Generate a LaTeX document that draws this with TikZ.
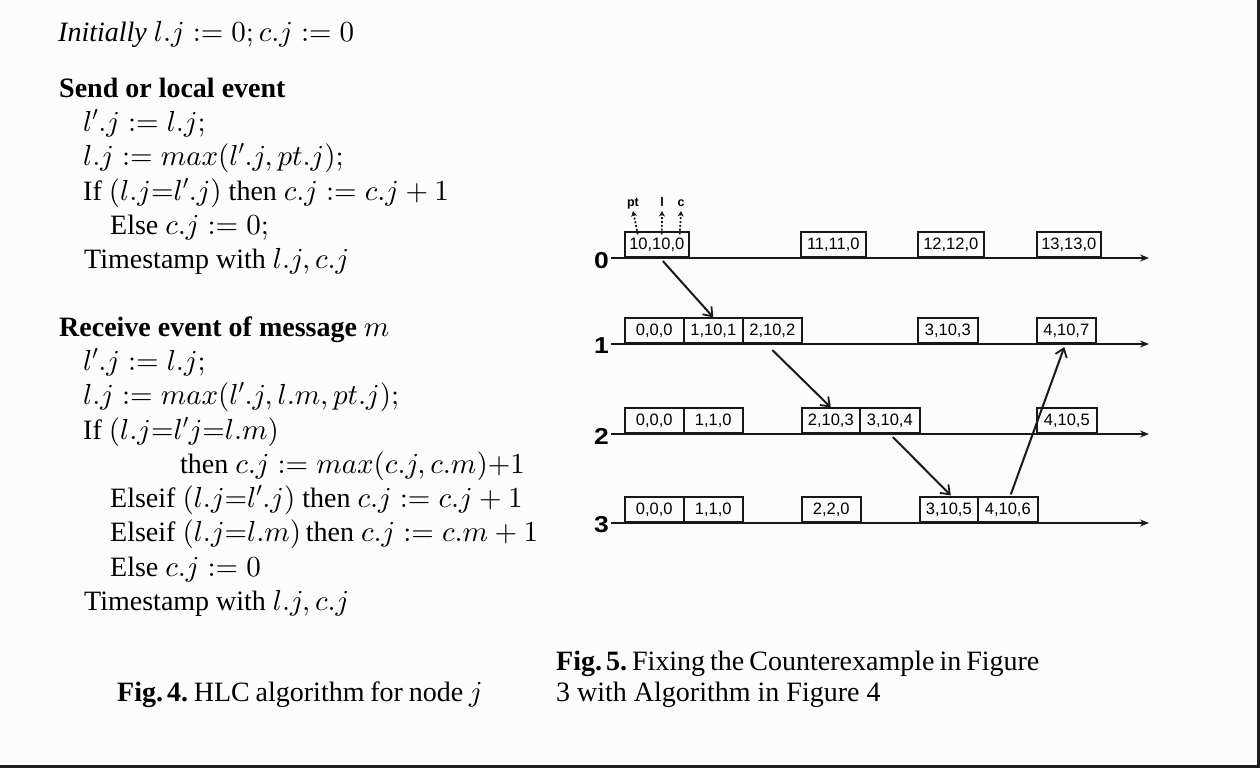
\RequirePackage{fix-cm}
\documentclass[tikz,border=0pt]{standalone}
\usepackage[no-math]{fontspec}
\setmainfont{Liberation Serif}
\newfontfamily\diagfont{Liberation Sans}
\DeclareFontShape{OML}{cmm}{m}{it}{<->cmmi10}{}
\DeclareFontShape{OT1}{cmr}{m}{n}{<->cmr10}{}
\DeclareFontShape{OMS}{cmsy}{m}{n}{<->cmsy10}{}
\DeclareMathSizes{28}{29}{20}{15}
\frenchspacing
\usetikzlibrary{arrows.meta}
\definecolor{bgc}{RGB}{252,252,252}
\definecolor{framec}{RGB}{30,30,30}
\definecolor{inkc}{RGB}{25,25,25}
\tikzset{
  txt/.style={anchor=base west, inner sep=0pt, font=\fontsize{28}{34}\selectfont},
  ev/.style={draw=inkc, line width=1.6pt, minimum height=25pt, inner sep=0pt,
    anchor=south west, font=\diagfont\fontsize{16.5}{18}\selectfont},
  proc/.style={anchor=east, inner sep=0pt, xscale=1.15, font=\diagfont\bfseries\fontsize{23}{24}\selectfont},
  tl/.style={draw=inkc, line width=1.9pt, -{Stealth[length=9pt,width=7pt]}},
  msg/.style={draw=inkc, line width=2pt, -{Straight Barb[length=8pt,width=12pt,line width=1.8pt]}},
  tag/.style={anchor=base, inner sep=0pt, font=\diagfont\bfseries\fontsize{12.5}{14}\selectfont},
  tagarrow/.style={draw=inkc, line width=1.7pt, dash pattern=on 2pt off 1.8pt, -{Stealth[length=5.5pt,width=6pt]}}
}
\begin{document}
\begin{tikzpicture}[x=1pt,y=-1pt]
\useasboundingbox (0,0) rectangle (1260,768);
\fill[bgc] (0,0) rectangle (1260,768);
\fill[framec] (1257,0) rectangle (1260,768);
\fill[framec] (0,765) rectangle (1260,768);

% ---------- Algorithm text ----------
\node[txt] (a1) at (58,42) {\textit{Initially} $l.j := 0; c.j := 0$};
\node[txt] (a2) at (59,97) {\textbf{Send or local event}};
\node[txt] (a3) at (83,131) {$l'.j := l.j;$};
\node[txt] (a4) at (83,165) {$l.j := max(l'.j, pt.j);$};
\node[txt] (a5) at (83,200) {If $(l.j{=}l'.j)$ then $c.j := c.j + 1$};
\node[txt] (a6) at (110,234) {Else $c.j := 0;$};
\node[txt] (a7) at (84,268) {Timestamp with $l.j, c.j$};

\node[txt] (b1) at (59,336) {\textbf{Receive event of message} $m$};
\node[txt] (b2) at (83,370) {$l'.j := l.j;$};
\node[txt] (b3) at (83,404) {$l.j := max(l'.j, l.m, pt.j);$};
\node[txt] (b4) at (83,439) {If $(l.j{=}l'j{=}l.m)$};
\node[txt] (b5) at (180,473) {then $c.j := max(c.j, c.m){+}1$};
\node[txt] (b6) at (110,507) {Elseif $(l.j{=}l'.j)$ then $c.j := c.j + 1$};
\node[txt] (b7) at (110,541) {Elseif $(l.j{=}l.m)$\,then $c.j := c.m + 1$};
\node[txt] (b8) at (110,576) {Else $c.j := 0$};
\node[txt] (b9) at (84,610) {Timestamp with $l.j, c.j$};

\node[txt] (cap4) at (117,701) {\spaceskip=5.8pt\textbf{Fig.\hspace{4pt}4.} HLC algorithm for node $j$};
\node[txt] (cap5a) at (556,670) {\spaceskip=5pt\textbf{Fig.\hspace{4pt}5.} Fixing the Counterexample in Figure};
\node[txt] (cap5b) at (556,701) {3 with Algorithm in Figure 4};

% ---------- Timelines ----------
\node[proc] (P0) at (609,260.5) {0};
\node[proc] (P1) at (609,346) {1};
\node[proc] (P2) at (609,436) {2};
\node[proc] (P3) at (609,525) {3};
\coordinate (S0) at (611,258);
\coordinate (S1) at (611,344);
\coordinate (S2) at (611,434);
\coordinate (S3) at (611,523);
\coordinate (E0) at (1149,258);
\coordinate (E1) at (1149,344);
\coordinate (E2) at (1149,434);
\coordinate (E3) at (1149,523);
\draw[tl] (S0) -- (E0);
\draw[tl] (S1) -- (E1);
\draw[tl] (S2) -- (E2);
\draw[tl] (S3) -- (E3);

% ---------- Events ----------
% process 0
\node[ev, minimum width=64pt] (e00) at (624,258) {10,10,0};
\node[ev, minimum width=65pt] (e01) at (800,258) {11,11,0};
\node[ev, minimum width=66pt] (e02) at (917,258) {12,12,0};
\node[ev, minimum width=64pt] (e03) at (1036,258) {13,13,0};
% process 1
\node[ev, minimum width=59pt] (e10) at (624,344) {0,0,0};
\node[ev, minimum width=59pt] (e11) at (683,344) {1,10,1};
\node[ev, minimum width=59pt] (e12) at (742,344) {2,10,2};
\node[ev, minimum width=60pt] (e13) at (917,344) {3,10,3};
\node[ev, minimum width=59pt] (e14) at (1036,344) {4,10,7};
% process 2
\node[ev, minimum width=59pt] (e20) at (624,434) {0,0,0};
\node[ev, minimum width=59pt] (e21) at (683,434) {1,1,0};
\node[ev, minimum width=58pt] (e22) at (801,434) {2,10,3};
\node[ev, minimum width=60pt] (e23) at (859,434) {3,10,4};
\node[ev, minimum width=60pt] (e24) at (1036,434) {4,10,5};
% process 3
\node[ev, minimum width=59pt] (e30) at (624,523) {0,0,0};
\node[ev, minimum width=59pt] (e31) at (683,523) {1,1,0};
\node[ev, minimum width=59pt] (e32) at (801,523) {2,2,0};
\node[ev, minimum width=58pt] (e33) at (919,523) {3,10,5};
\node[ev, minimum width=60pt] (e34) at (977,523) {4,10,6};

% ---------- Messages ----------
\draw[msg] ([xshift=6pt,yshift=-3pt]e00.south) -- (e11.north);
\draw[msg] ([xshift=0pt,yshift=-6pt]e12.south) -- (e22.north);
\draw[msg] ([xshift=3pt,yshift=-3pt]e23.south) -- ([xshift=2pt,yshift=1pt]e33.north);
\draw[msg] ([xshift=3pt,yshift=2pt]e34.north) -- ([xshift=-2pt,yshift=-3pt]e14.south);

% ---------- pt / l / c tags ----------
\node[tag] (tpt) at (633,206) {pt};
\node[tag] (tl) at (662,206) {l};
\node[tag] (tc) at (681,206) {c};
\draw[tagarrow] ([xshift=-19pt,yshift=-3pt]e00.north) -- ([yshift=-5pt]tpt.base);
\draw[tagarrow] ([xshift=5pt,yshift=-3pt]e00.north) -- ([yshift=-5pt]tl.base);
\draw[tagarrow] ([xshift=23pt,yshift=-3pt]e00.north) -- ([yshift=-5pt]tc.base);
\end{tikzpicture}
\end{document}
